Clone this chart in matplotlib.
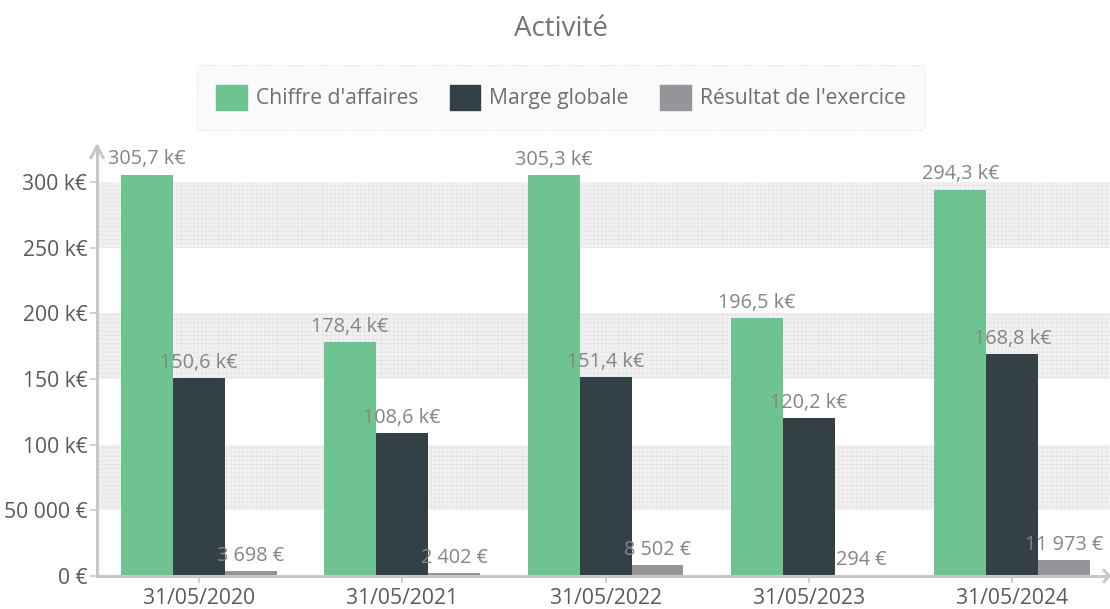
import matplotlib
matplotlib.use("Agg")
import matplotlib.pyplot as plt
from matplotlib.patches import Rectangle
import numpy as np

plt.rcParams['font.family'] = ['Open Sans', 'DejaVu Sans']
plt.rcParams['hatch.linewidth'] = 0.4

categories = ["31/05/2020", "31/05/2021", "31/05/2022", "31/05/2023", "31/05/2024"]
series_names = ["Chiffre d'affaires", "Marge globale", "Résultat de l'exercice"]
chiffre_affaires = [305700, 178400, 305300, 196500, 294300]
marge_globale = [150600, 108600, 151400, 120200, 168800]
resultat = [3698, 2402, 8502, 294, 11973]
ca_labels = ["305,7 k€", "178,4 k€", "305,3 k€", "196,5 k€", "294,3 k€"]
mg_labels = ["150,6 k€", "108,6 k€", "151,4 k€", "120,2 k€", "168,8 k€"]
res_labels = ["3 698 €", "2 402 €", "8 502 €", "294 €", "11 973 €"]
yticks = [0, 50000, 100000, 150000, 200000, 250000, 300000]
ytick_labels = ["0 €", "50 000 €", "100 k€", "150 k€", "200 k€", "250 k€", "300 k€"]
colors = ["#6fc391", "#334045", "#939598"]

fig = plt.figure(figsize=(11.1, 6.09), dpi=100)
ax = fig.add_axes([0.0874, 0.0542, 0.9126, 0.706])

x = np.arange(len(categories))
w = 0.2555
series = [chiffre_affaires, marge_globale, resultat]
labels = [ca_labels, mg_labels, res_labels]
axis_col = "#c8c8c8"
lab_col = "#858585"
tick_col = "#5a5a5a"

# bands
for lo in [50000, 150000, 250000]:
    ax.axhspan(lo, lo + 50000, facecolor="#f1f1f1", edgecolor="#e3e3e3",
               hatch="++++", linewidth=0, zorder=0)

for i, (vals, labs, c) in enumerate(zip(series, labels, colors)):
    xs = x + (i - 1) * w
    ax.bar(xs, vals, width=w, color=c, label=series_names[i], zorder=2)
    for xi, v, t in zip(xs, vals, labs):
        ax.text(xi, v + 4000, t, ha="center", va="bottom", fontsize=14.3,
                color=lab_col, zorder=3)

ax.set_xlim(-0.5, 4.48)
ax.set_ylim(0, 327500)
ax.set_xticks(x)
ax.set_xticklabels(categories, fontsize=15.2, color=tick_col)
ax.set_yticks(yticks)
ax.set_yticklabels(ytick_labels, fontsize=15.2, color=tick_col)
ax.tick_params(axis="x", direction="inout", length=10, width=1.2, color=axis_col, pad=4)
ax.tick_params(axis="y", direction="out", length=5, width=1.2, color=axis_col, pad=2)

for s in ["top", "right"]:
    ax.spines[s].set_visible(False)
for s in ["left", "bottom"]:
    ax.spines[s].set_color(axis_col)
    ax.spines[s].set_linewidth(2.2)
    ax.spines[s].set_zorder(4)
ax.spines["left"].set_bounds(0, 327500)

# arrow heads
ax.plot([-0.53, -0.5, -0.47], [318500, 327500, 318500], transform=ax.transData,
        color=axis_col, lw=2.2, clip_on=False, zorder=5, solid_capstyle="round")
ax.plot([4.45, 4.475, 4.45], [4500, 0, -4500], transform=ax.transData,
        color=axis_col, lw=2.2, clip_on=False, zorder=5, solid_capstyle="round")

fig.text(0.5054, 0.953, "Activité", ha="center", va="center", fontsize=20, color="#757575")

handles = [Rectangle((0, 0), 1, 1, color=c) for c in colors]
leg = fig.legend(handles, series_names, loc="center", bbox_to_anchor=(0.5054, 0.840),
                 ncol=3, fontsize=15.2, frameon=True, fancybox=True,
                 handlelength=1.45, handleheight=1.5, handletextpad=0.42,
                 columnspacing=1.5, borderpad=0.92, borderaxespad=0,
                 labelcolor="#6f6f6f")
fr = leg.get_frame()
fr.set_facecolor("#f9f9f9")
fr.set_edgecolor("#d8d8d8")
fr.set_linestyle(":")
fr.set_linewidth(0.8)

fig.savefig("out.png", dpi=100)
